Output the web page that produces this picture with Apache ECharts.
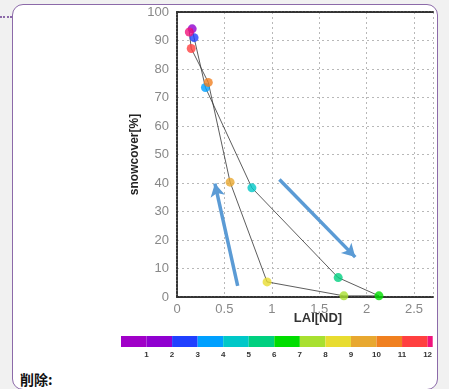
<!DOCTYPE html>
<html><head><meta charset="utf-8">
<script src="https://cdn.jsdelivr.net/npm/echarts@6/dist/echarts.min.js"></script>
<style>
html,body{margin:0;padding:0;width:449px;height:389px;overflow:hidden;background:#f1f1f1;}
#box{position:absolute;left:12px;top:4px;width:426px;height:386px;border:1.5px solid #8c6aa9;border-radius:11px;background:#fff;box-sizing:border-box;}
#dots{position:absolute;left:0;top:16px;width:12px;border-top:2px dotted #8c6aa9;}
#del{position:absolute;left:20px;top:369px;font:bold 14px "Noto Sans CJK SC","Noto Sans",sans-serif;color:#111;}
#chart{position:absolute;left:0;top:0;width:449px;height:389px;}
</style></head>
<body>
<div id="dots"></div>
<div id="box"></div>
<div id="del">削除:</div>
<div id="chart"></div>
<script>
// Monthly data (month 1..12)
const months = [1,2,3,4,5,6,7,8,9,10,11,12];
const lai = [0.16,0.18,0.30,0.79,1.70,2.13,1.76,0.95,0.56,0.33,0.15,0.13];
const snow = [94.1,91.0,73.5,38.3,6.8,0.4,0.4,5.3,40.3,75.3,87.2,93.0];
const monthColors = ['#9000d0','#2040ff','#00a0ff','#00c8c8','#00d080','#00dd00','#a8e030','#e8dc30','#e8a830','#f08020','#ff4040','#f0147c'];
// colour bar segments [start,end]
const barStarts = [0,1,2,3,4,5,6,7,8,9,10,11,12];
const barEnds   = [1,2,3,4,5,6,7,8,9,10,11,12,12.2];
const barColors = ['#a000c8','#9000d0','#2040ff','#00a0ff','#00c8c8','#00d080','#00dd00','#a8e030','#e8dc30','#e8a830','#f08020','#ff4040','#f0147c'];
const barTicks = [1,2,3,4,5,6,7,8,9,10,11,12];
// annotation arrows [x0,y0,x1,y1]
const arrows = [[0.64,3.9,0.40,39.8],[1.08,41.2,1.88,14.0]];

const chart = echarts.init(document.getElementById('chart'), null, {renderer:'canvas'});
const pts = months.map((m,i)=>({value:[lai[i],snow[i]], itemStyle:{color:monthColors[i]}}));
const pathData = months.map((m,i)=>[lai[i],snow[i]]);
pathData.push([lai[0],snow[0]]);
const labelStyle = {color:'#888', fontSize:13, fontFamily:'Liberation Sans, Arial, sans-serif'};
const axLine = {color:'#333',width:2,type:[2,1.5]};
chart.setOption({
  animation:false,
  grid:[{left:177,top:12,width:256,height:285},{left:121,top:336,width:311.7,height:11}],
  xAxis:[
    {gridIndex:0,type:'value',min:0,max:2.7,interval:0.5,
     name:'LAI[ND]',nameLocation:'middle',nameGap:15,nameMoveOverlap:false,
     nameTextStyle:{color:'#333',fontSize:13,fontWeight:'bold',fontFamily:'Liberation Sans, Arial, sans-serif',padding:[0,0,0,26]},
     axisLine:{lineStyle:axLine},
     axisTick:{show:false},
     axisLabel:{...labelStyle,margin:6,formatter:v=>(Math.abs(v*2-Math.round(v*2))<1e-6?String(v):'')},
     splitLine:{lineStyle:{color:'#b8b8b8',type:[2,3],width:1}}},
    {gridIndex:0,type:'value',position:'top',min:0,max:2.7,
     axisLine:{onZero:false,lineStyle:axLine},
     axisTick:{show:false},axisLabel:{show:false},splitLine:{show:false}},
    {gridIndex:1,type:'value',min:0,max:12.2,interval:1,
     axisLine:{show:false},axisTick:{show:false},splitLine:{show:false},
     axisLabel:{color:'#333',fontSize:8,fontWeight:'bold',margin:4,fontFamily:'Liberation Sans, Arial, sans-serif',
       formatter:v=>(barTicks.indexOf(v)>=0?String(v):'')}}
  ],
  yAxis:[
    {gridIndex:0,type:'value',min:0,max:100,interval:10,
     name:'snowcover[%]',nameLocation:'middle',nameGap:36,nameMoveOverlap:false,
     nameTextStyle:{color:'#222',fontSize:12,fontWeight:'bold',fontFamily:'Liberation Sans, Arial, sans-serif'},
     axisLine:{lineStyle:axLine},
     axisTick:{show:false},
     axisLabel:{...labelStyle,margin:8},
     splitLine:{lineStyle:{color:'#b8b8b8',type:[2,3],width:1}}},
    {gridIndex:1,type:'value',min:0,max:1,show:false}
  ],
  series:[
    {type:'line',xAxisIndex:0,yAxisIndex:0,data:pathData,symbol:'none',
     lineStyle:{color:'#333',width:0.8},z:2,
     markLine:{silent:true,symbol:['none','arrow'],symbolSize:[11,13],
       lineStyle:{color:'#5b9bd5',width:3.5,type:'solid'},label:{show:false},
       data:arrows.map(a=>[{coord:[a[0],a[1]]},{coord:[a[2],a[3]]}])}},
    {type:'scatter',xAxisIndex:0,yAxisIndex:0,data:pts,symbolSize:9,z:3},
    {type:'custom',xAxisIndex:2,yAxisIndex:1,
     data:barStarts.map((s,i)=>[s,barEnds[i],i]),
     renderItem:(params,api)=>{
       const p0=api.coord([api.value(0),1]);const p1=api.coord([api.value(1),0]);
       return {type:'rect',shape:{x:p0[0],y:p0[1],width:p1[0]-p0[0],height:p1[1]-p0[1]},
         style:{fill:barColors[api.value(2)]}};
     }}
  ]
});
</script>
</body></html>
